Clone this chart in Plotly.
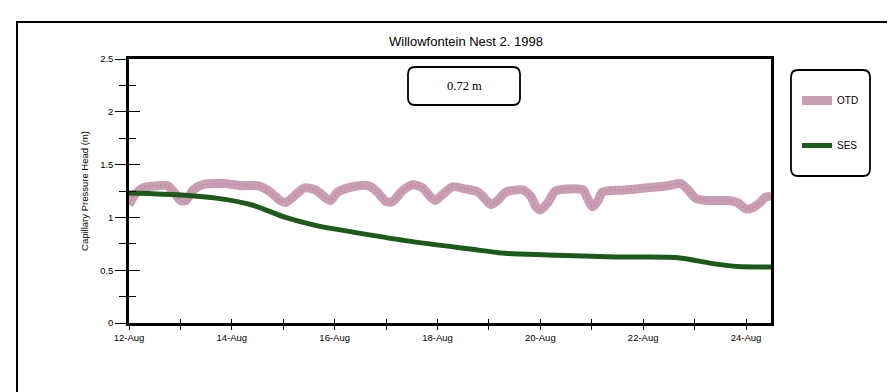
import plotly.graph_objects as go

TITLE = "Willowfontein Nest 2. 1998"
Y_TITLE = "Capillary Pressure Head (m)"
DEPTH_LABEL = "0.72 m"
SERIES_NAMES = ["OTD", "SES"]

OTD_TIMES = [
    "1998-08-12 00:00", "1998-08-12 03:00", "1998-08-12 06:30", "1998-08-12 13:30",
    "1998-08-12 18:00", "1998-08-12 21:00", "1998-08-13 00:00", "1998-08-13 02:30",
    "1998-08-13 06:00", "1998-08-13 10:30", "1998-08-13 20:00", "1998-08-14 05:00",
    "1998-08-14 12:00", "1998-08-14 18:00", "1998-08-14 22:30", "1998-08-15 01:00",
    "1998-08-15 05:00", "1998-08-15 10:00", "1998-08-15 15:00", "1998-08-15 20:00",
    "1998-08-15 22:00", "1998-08-16 01:30", "1998-08-16 08:30", "1998-08-16 15:30",
    "1998-08-16 20:00", "1998-08-17 00:00", "1998-08-17 03:00", "1998-08-17 08:00",
    "1998-08-17 12:30", "1998-08-17 17:00", "1998-08-17 20:30", "1998-08-17 23:00",
    "1998-08-18 02:30", "1998-08-18 07:00", "1998-08-18 13:00", "1998-08-18 19:00",
    "1998-08-18 22:00", "1998-08-19 01:00", "1998-08-19 04:00", "1998-08-19 08:00",
    "1998-08-19 16:00", "1998-08-19 19:30", "1998-08-19 22:00", "1998-08-20 00:00",
    "1998-08-20 03:30", "1998-08-20 07:00", "1998-08-20 13:00", "1998-08-20 20:00",
    "1998-08-20 22:00", "1998-08-21 00:30", "1998-08-21 03:00", "1998-08-21 05:00",
    "1998-08-21 15:30", "1998-08-22 02:00", "1998-08-22 11:30", "1998-08-22 17:30",
    "1998-08-22 21:00", "1998-08-23 00:30", "1998-08-23 06:00", "1998-08-23 15:30",
    "1998-08-23 20:00", "1998-08-24 00:00", "1998-08-24 03:00", "1998-08-24 06:30",
    "1998-08-24 09:00", "1998-08-24 11:40",
]
OTD_VALUES = [
    1.12, 1.22, 1.28, 1.30,
    1.30, 1.24, 1.16, 1.16,
    1.26, 1.31, 1.32, 1.30,
    1.30, 1.24, 1.16, 1.14,
    1.20, 1.28, 1.26, 1.18,
    1.16, 1.24, 1.29, 1.30,
    1.24, 1.15, 1.15, 1.26,
    1.31, 1.28, 1.20, 1.16,
    1.22, 1.29, 1.27, 1.24,
    1.18, 1.12, 1.16, 1.24,
    1.26, 1.20, 1.10, 1.07,
    1.14, 1.25, 1.27, 1.26,
    1.18, 1.10, 1.16, 1.24,
    1.26, 1.28, 1.30, 1.32,
    1.26, 1.18, 1.16, 1.16,
    1.14, 1.08, 1.09, 1.14,
    1.19, 1.20,
]

SES_TIMES = [
    "1998-08-12 00:00", "1998-08-13 02:00", "1998-08-13 17:30", "1998-08-14 09:00",
    "1998-08-15 01:00", "1998-08-15 16:00", "1998-08-16 06:00", "1998-08-17 09:00",
    "1998-08-18 15:30", "1998-08-19 07:30", "1998-08-20 03:30", "1998-08-21 11:00",
    "1998-08-22 15:00", "1998-08-23 09:30", "1998-08-23 20:00", "1998-08-24 11:40",
]
SES_VALUES = [
    1.23, 1.21, 1.18, 1.12,
    1.00, 0.92, 0.87, 0.78,
    0.70, 0.66, 0.645, 0.625,
    0.62, 0.56, 0.535, 0.53,
]

X_RANGE = ["1998-08-12 00:00", "1998-08-24 11:40"]
Y_RANGE = [0, 2.5]

FONT = "Liberation Sans, Arial, sans-serif"
DAY_MS = 86400000

fig = go.Figure()
fig.add_trace(go.Scatter(
    x=OTD_TIMES, y=OTD_VALUES, name=SERIES_NAMES[0], mode="lines", legendgroup="otd",
    line=dict(color="#c99db2", width=9, shape="spline", smoothing=0.7),
))
fig.add_trace(go.Scatter(
    x=OTD_TIMES, y=OTD_VALUES, name=SERIES_NAMES[0], mode="lines", showlegend=False,
    hoverinfo="skip", legendgroup="otd",
    line=dict(color="#b2849b", width=1.5, shape="spline", smoothing=0.7,
              dash="1px,3px"),
))
fig.add_trace(go.Scatter(
    x=SES_TIMES, y=SES_VALUES, name=SERIES_NAMES[1], mode="lines", legendgroup="ses",
    line=dict(color="#1c5a1c", width=5, shape="spline", smoothing=0.8),
))
# invisible trace carrying the overlay axes used for crossing ticks
fig.add_trace(go.Scatter(
    x=SES_TIMES, y=SES_VALUES, xaxis="x2", yaxis="y2", mode="lines",
    line=dict(width=0, color="rgba(0,0,0,0)"), showlegend=False, hoverinfo="skip",
))

L, R, T, B = 121, 132, 51, 77
PW, PH = 895 - L - R, 392 - T - B


def px_x(p):
    return (p - L) / PW


def px_y(p):
    return (392 - B - p) / PH


def rounded(x0, y0, x1, y1, r=6):
    X0, X1 = px_x(x0), px_x(x1)
    Y0, Y1 = px_y(y1), px_y(y0)
    rx, ry = r / PW, r / PH
    return (f"M {X0+rx},{Y0} L {X1-rx},{Y0} Q {X1},{Y0} {X1},{Y0+ry} "
            f"L {X1},{Y1-ry} Q {X1},{Y1} {X1-rx},{Y1} L {X0+rx},{Y1} "
            f"Q {X0},{Y1} {X0},{Y1-ry} L {X0},{Y0+ry} Q {X0},{Y0} {X0+rx},{Y0} Z")


tickfont = dict(family=FONT, size=9.5, color="black")

fig.update_layout(
    width=895, height=392,
    margin=dict(l=L, r=R, t=T, b=B),
    paper_bgcolor="white", plot_bgcolor="white",
    font=dict(family=FONT, color="black"),
    title=dict(text=TITLE, xref="container", x=458 / 895, y=1 - 33 / 392,
               xanchor="center", yanchor="middle",
               font=dict(family=FONT, size=13, color="black")),
    xaxis=dict(
        type="date", range=X_RANGE, tick0="1998-08-12", dtick=2 * DAY_MS,
        tickformat="%d-%b", tickfont=tickfont, ticks="outside", ticklen=4,
        tickwidth=1.2, tickcolor="black",
        minor=dict(dtick=DAY_MS, tick0="1998-08-12", ticks="outside", ticklen=4,
                   tickwidth=1.2, tickcolor="black", showgrid=False),
        showline=True, linecolor="black", linewidth=2.5, mirror=True,
        showgrid=False, zeroline=False, fixedrange=True,
    ),
    yaxis=dict(
        range=Y_RANGE, dtick=0.5, tick0=0, tickfont=tickfont, ticks="outside",
        ticklen=11, tickwidth=1.2, tickcolor="black",
        minor=dict(dtick=0.25, ticks="outside", ticklen=7, tickwidth=1.2,
                   tickcolor="black", showgrid=False),
        showline=True, linecolor="black", linewidth=2.5, mirror=True,
        showgrid=False, zeroline=False,
        title=dict(text=Y_TITLE, font=dict(family=FONT, size=9.5, color="black"),
                   standoff=10),
    ),
    xaxis2=dict(
        type="date", range=X_RANGE, overlaying="x", anchor="y2", side="bottom",
        tick0="1998-08-12", dtick=DAY_MS, ticks="inside", ticklen=4,
        tickwidth=1.2, tickcolor="black", showticklabels=False,
        showline=False, showgrid=False, zeroline=False,
    ),
    yaxis2=dict(
        range=Y_RANGE, overlaying="y", anchor="x2", side="left",
        dtick=0.5, tick0=0, ticks="inside", ticklen=11, tickwidth=1.2,
        tickcolor="black", showticklabels=False,
        minor=dict(dtick=0.25, ticks="inside", ticklen=7, tickwidth=1.2,
                   tickcolor="black", showgrid=False),
        showline=False, showgrid=False, zeroline=False,
    ),
    legend=dict(
        x=px_x(789), y=px_y(78), xanchor="left", yanchor="top",
        bgcolor="rgba(0,0,0,0)", borderwidth=0,
        font=dict(family=FONT, size=10, color="black"),
        tracegroupgap=26, itemwidth=30,
    ),
    showlegend=True,
    shapes=[
        # outer frame
        dict(type="rect", xref="paper", yref="paper",
             x0=px_x(9), x1=px_x(960), y0=px_y(388), y1=px_y(14),
             line=dict(color="black", width=2), layer="below"),
        # depth label box
        dict(type="path", xref="paper", yref="paper",
             path=rounded(400, 59, 512, 97, 7),
             line=dict(color="black", width=1.8)),
        # legend box
        dict(type="path", xref="paper", yref="paper",
             path=rounded(783, 62, 862, 168, 7),
             line=dict(color="black", width=1.8)),
    ],
    annotations=[
        dict(text=DEPTH_LABEL, xref="paper", yref="paper",
             x=px_x(456), y=px_y(78), xanchor="center", yanchor="middle",
             showarrow=False,
             font=dict(family="Liberation Serif, Times New Roman, serif",
                       size=12.5, color="black")),
    ],
)

fig.write_html("out.html")
